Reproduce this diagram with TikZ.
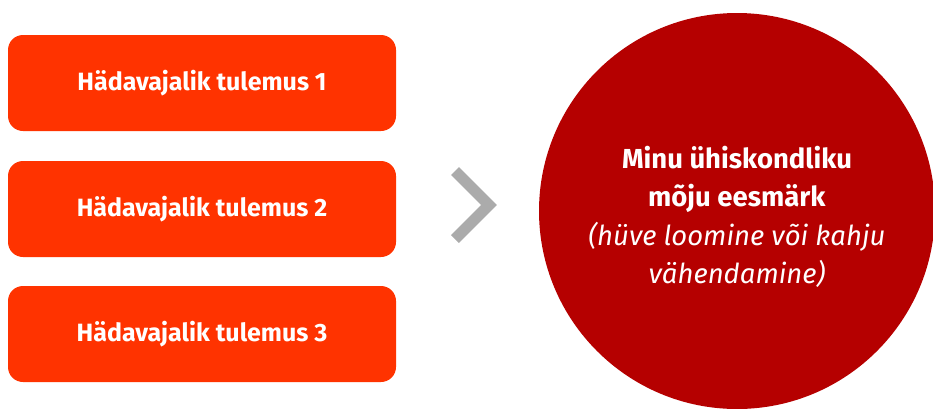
\documentclass[tikz,border=0pt]{standalone}
\usepackage{fontspec}
\setmainfont{Fira Sans}
\usetikzlibrary{positioning}
\definecolor{tulemus}{HTML}{FF3300}
\definecolor{eesmark}{HTML}{B50000}
\definecolor{nool}{HTML}{ABABAB}
\tikzset{
  tulemusbox/.style={fill=tulemus, rounded corners=15pt, minimum width=388pt,
    minimum height=96pt, inner sep=0pt, text=white,
    font=\fontsize{25}{30}\selectfont\bfseries},
  eesmarkring/.style={circle, fill=eesmark, minimum size=396pt, inner sep=0pt},
  eesmarktext/.style={text=white, align=center, font=\fontsize{27.5}{38.5}\selectfont},
}

\begin{document}
\begin{tikzpicture}[x=1pt,y=-1pt]
  \useasboundingbox (0,0) rectangle (933,408);

  % tulemused
  \node[tulemusbox] (t1) at (202,83) {Hädavajalik tulemus 1};
  \node[tulemusbox] (t2) at (202,209) {Hädavajalik tulemus 2};
  \node[tulemusbox] (t3) at (202,334) {Hädavajalik tulemus 3};

  % nool
  \draw[nool, line width=11pt, miter limit=4] (455,171) -- (489,205) -- (455,239);

  % eesmärk
  \node[eesmarkring] (goal) at (737,211) {};
  \node[eesmarktext] (goaltext) at ([yshift=-6pt]goal.center)
    {\textbf{Minu ühiskondliku}\\ \textbf{mõju eesmärk}\\
     \textit{(hüve loomine või kahju}\\ \textit{vähendamine)}};
\end{tikzpicture}
\end{document}
